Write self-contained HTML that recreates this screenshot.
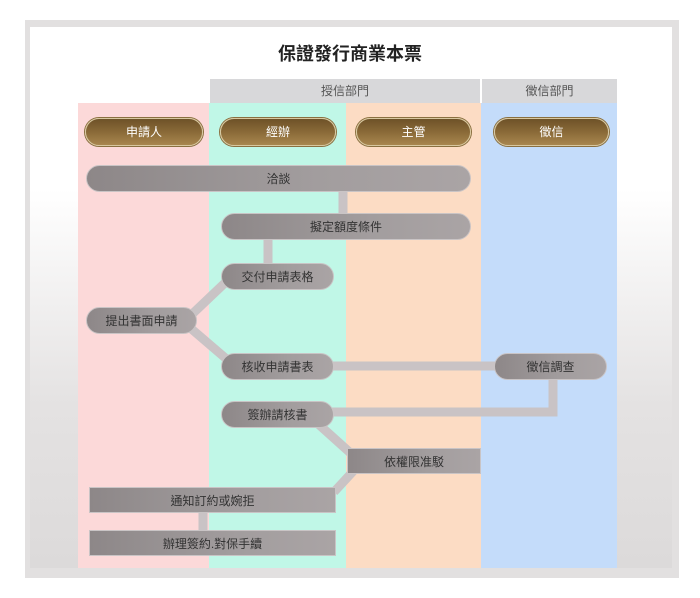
<!DOCTYPE html>
<html><head><meta charset="utf-8"><style>
body{margin:0;width:700px;height:598px;background:#fff;position:relative;overflow:hidden;font-family:"Liberation Sans","Noto Sans CJK TC",sans-serif}
.a{position:absolute}
.frame{left:25px;top:20px;width:654px;height:558px;background:#e2e0e0}
.inner{left:30px;top:27px;width:642px;height:541px;background:linear-gradient(to bottom,#fff 0%,#fff 30%,#e4e2e2 70%,#dcdada 100%)}
.col{top:103px;height:465px}
.hd{top:79px;height:24px;background:#d8d8da;color:#555;font-size:12px;text-align:center;line-height:24px}
.role{height:26px;border-radius:14px;background:linear-gradient(to bottom,#6e5228,#8a6a38 50%,#a8864e);border:1px solid #d8c8a0;box-shadow:0 0 0 1px #8a7040;color:#fff;font-size:12px;text-align:center;line-height:26px}
.n{height:27px;border-radius:14px;background:linear-gradient(to right,#8d8788,#a29d9e 60%,#aaa4a5);border:1px solid #c9c4c5;color:#333;font-size:12px;text-align:center;line-height:27px;box-sizing:border-box}
.r{border-radius:0}
</style></head><body>
<div class="a frame"></div>
<div class="a inner"></div>
<div class="a" style="left:0;top:30px;width:700px;text-align:center;font-size:18px;font-weight:bold;color:#222;top:40px">保證發行商業本票</div>
<div class="a hd" style="left:210px;width:270px">授信部門</div>
<div class="a hd" style="left:482px;width:135px">徵信部門</div>
<div class="a col" style="left:78px;width:131px;background:#fcd9d9"></div>
<div class="a col" style="left:209px;width:137px;background:#c0f7e7"></div>
<div class="a col" style="left:346px;width:135px;background:#fcdcc4"></div>
<div class="a col" style="left:481px;width:136px;background:#c4dcfa"></div>
<div class="a role" style="left:85px;top:118px;width:116px">申請人</div>
<div class="a role" style="left:220px;top:118px;width:114px">經辦</div>
<div class="a role" style="left:356px;top:118px;width:113px">主管</div>
<div class="a role" style="left:494px;top:118px;width:113px">徵信</div>
<svg class="a" style="left:0;top:0" width="700" height="598">
<g stroke="#c9c3c5" stroke-width="9" fill="none">
<line x1="343" y1="190" x2="343" y2="215"/>
<line x1="268" y1="238" x2="268" y2="265"/>
<line x1="228" y1="280" x2="188" y2="318"/>
<line x1="188" y1="326" x2="230" y2="362"/>
<line x1="330" y1="366" x2="498" y2="366"/>
<polyline points="553,378 553,412 330,412"/>
<line x1="316" y1="422" x2="356" y2="458"/>
<line x1="358" y1="466" x2="334" y2="492"/>
<line x1="203" y1="511" x2="203" y2="532"/>
</g></svg>
<div class="a n" style="left:86px;top:165px;width:385px">洽談</div>
<div class="a n" style="left:221px;top:213px;width:250px">擬定額度條件</div>
<div class="a n" style="left:221px;top:263px;width:113px">交付申請表格</div>
<div class="a n" style="left:86px;top:307px;width:111px">提出書面申請</div>
<div class="a n" style="left:221px;top:353px;width:113px">核收申請書表</div>
<div class="a n" style="left:494px;top:353px;width:113px">徵信調查</div>
<div class="a n" style="left:221px;top:401px;width:113px">簽辦請核書</div>
<div class="a n r" style="left:347px;top:448px;width:134px;height:26px;line-height:26px">依權限准駁</div>
<div class="a n r" style="left:89px;top:487px;width:247px;height:26px;line-height:26px">通知訂約或婉拒</div>
<div class="a n r" style="left:89px;top:530px;width:247px;height:26px;line-height:26px">辦理簽約.對保手續</div>
</body></html>
